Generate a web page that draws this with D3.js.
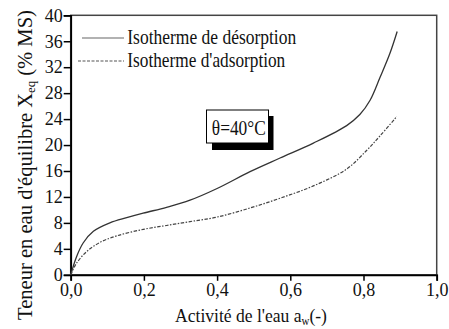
<!DOCTYPE html>
<html><head><meta charset="utf-8">
<script src="https://cdn.jsdelivr.net/npm/d3@7"></script>
<style>body{margin:0;background:#fff}svg{display:block}svg text{font-family:'Liberation Serif','Times New Roman','DejaVu Serif',serif}</style>
</head><body><svg id="c" width="449" height="329"></svg>
<script>
const xTicks = [0, 0.2, 0.4, 0.6, 0.8, 1.0];
const yTicks = [0,4,8,12,16,20,24,28,32,36,40];
const desorpAw  = [0, 0.016, 0.034, 0.062, 0.107, 0.153, 0.198, 0.262, 0.326, 0.40, 0.49, 0.572, 0.663, 0.754, 0.79, 0.818, 0.845, 0.872, 0.892];
const desorpX   = [0, 2.8, 4.9, 6.7, 8.0, 8.8, 9.5, 10.4, 11.5, 13.3, 15.9, 18.0, 20.3, 23.0, 24.7, 26.9, 30.4, 34.1, 37.5];
const adsorpAw  = [0, 0.016, 0.044, 0.08, 0.126, 0.198, 0.262, 0.326, 0.40, 0.49, 0.572, 0.663, 0.754, 0.809, 0.845, 0.891];
const adsorpX   = [0, 1.8, 3.6, 5.0, 6.0, 7.0, 7.6, 8.2, 8.9, 10.3, 11.8, 13.7, 16.3, 19.2, 21.4, 24.4];
const legendLabels = ["Isotherme de désorption", "Isotherme d'adsorption"];
const boxLabel = "θ=40°C";

const svg = d3.select("#c");
const L=70.7, R=436.7, T=15.3, B=274.8;
const x = d3.scaleLinear().domain([0,1]).range([L,R]);
const y = d3.scaleLinear().domain([0,40]).range([B,T]);
const fmt = d => d3.format(".1f")(d).replace(".", ",");

// frame
svg.append("rect").attr("x",L).attr("y",T).attr("width",R-L).attr("height",B-T)
  .attr("fill","none").attr("stroke","#444").attr("stroke-width",1.5);

const xa = svg.append("g").attr("transform",`translate(0,${B})`)
  .call(d3.axisBottom(x).tickValues(xTicks).tickFormat(fmt).tickSize(6).tickPadding(2));
const ya = svg.append("g").attr("transform",`translate(${L},0)`)
  .call(d3.axisLeft(y).tickValues(yTicks).tickSize(7).tickPadding(1));
[xa,ya].forEach(g=>{
  g.attr("font-family",null).attr("font-size",18);
  g.select(".domain").attr("stroke","#000").attr("stroke-width",1.8);
  g.selectAll(".tick line").attr("stroke","#000").attr("stroke-width",1.5);
  g.selectAll("text").attr("fill","#111");
});

const line = d3.line().x(d=>x(d[0])).y(d=>y(d[1])).curve(d3.curveCatmullRom.alpha(0.5));
svg.append("path").datum(desorpAw.map((a,i)=>[a,desorpX[i]]))
  .attr("d",line).attr("fill","none").attr("stroke","#333").attr("stroke-width",1.3);
svg.append("path").datum(adsorpAw.map((a,i)=>[a,adsorpX[i]]))
  .attr("d",line).attr("fill","none").attr("stroke","#444").attr("stroke-width",1.2)
  .attr("stroke-dasharray","3.5,1.5,1.5,1.5");

// helper: text condensed horizontally to a target length
function fitText(parts, fs, target, anchor, tx, ty, rot){
  const g = svg.append("g");
  const t = g.append("text").attr("font-size",fs).attr("fill","#111").attr("text-anchor",anchor);
  parts.forEach(p=>{
    const s = t.append("tspan").text(p.t);
    if(p.sub){ s.attr("font-size",fs*0.62).attr("dy",fs*0.15); }
    if(p.after){ s.attr("dy",-fs*0.15); }
  });
  const w = t.node().getComputedTextLength();
  g.attr("transform",`translate(${tx},${ty}) rotate(${rot||0}) scale(${target/w},1)`);
  return g;
}

// legend
svg.append("line").attr("x1",82).attr("x2",124).attr("y1",38).attr("y2",38)
  .attr("stroke","#999").attr("stroke-width",1.3);
svg.append("line").attr("x1",78).attr("x2",124).attr("y1",61).attr("y2",61)
  .attr("stroke","#555").attr("stroke-width",1.1).attr("stroke-dasharray","3,1.5");
fitText([{t:legendLabels[0]}], 21, 169, "start", 127.3, 44.3);
fitText([{t:legendLabels[1]}], 21, 158, "start", 127.3, 66.5);

// theta box
svg.append("rect").attr("x",212).attr("y",116).attr("width",61.5).attr("height",34).attr("fill","#000");
svg.append("rect").attr("x",206.5).attr("y",110).attr("width",62).attr("height",33)
  .attr("fill","#fff").attr("stroke","#000").attr("stroke-width",1);
fitText([{t:boxLabel}], 21, 54, "middle", 238.8, 134.5);

// axis titles
fitText([{t:"Activité de l'eau a"},{t:"w",sub:true},{t:"(-)",after:true}], 19, 152, "middle", 251, 322);
fitText([{t:"Teneur en eau d'équilibre X"},{t:"eq",sub:true},{t:" (% MS)",after:true}], 21, 310, "middle", 32, 165, -90);
</script></body></html>
